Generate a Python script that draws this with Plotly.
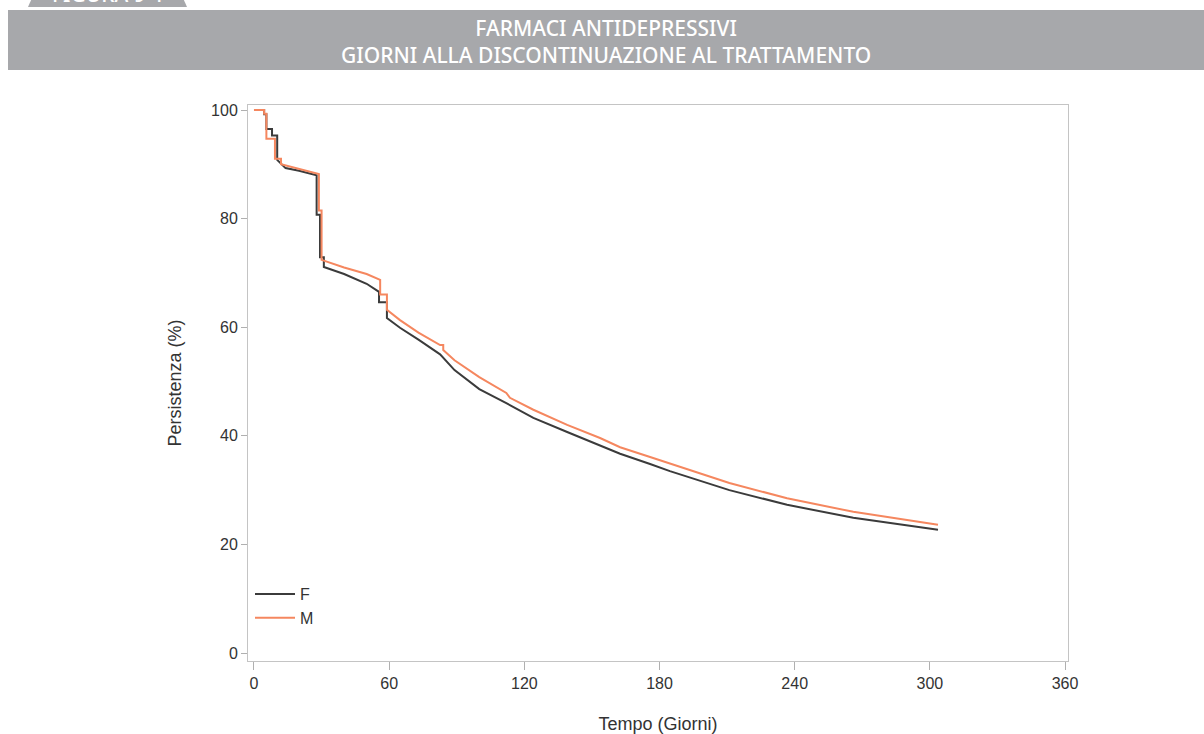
import plotly.graph_objects as go

# ---- data ----
days_F = [0, 4.5, 4.5, 5.5, 5.5, 8, 8, 10.3, 10.3, 14, 20, 27.8, 27.8, 29.3, 29.3, 31, 31,
          40, 50, 55.5, 55.5, 59, 59, 64.8, 73, 82.6, 89, 100, 112, 124, 139, 153.6,
          162.5, 175.8, 184.6, 211, 236.6, 266, 303.6]
pers_F = [100, 100, 99.2, 99.2, 96.5, 96.5, 95.3, 95.3, 90.8, 89.3, 88.8, 88.0, 80.7, 80.7,
          72.9, 72.9, 71.1, 69.8, 68.0, 66.5, 64.6, 64.6, 61.7, 59.9, 57.7, 55.0, 52.1, 48.6,
          46.0, 43.3, 40.7, 38.3, 36.7, 34.8, 33.5, 30.0, 27.3, 24.9, 22.7]

days_M = [0, 4.5, 4.5, 5.5, 5.5, 9.3, 9.3, 12, 12, 20, 28.8, 28.8, 30, 30, 40, 50, 56, 56,
          59, 59, 64.8, 73, 82.6, 84, 84, 89, 100, 112, 113.6, 124, 139, 153.6, 162.5,
          175.8, 184.6, 211, 236.6, 266, 303.6]
pers_M = [100, 100, 99.3, 99.3, 94.7, 94.7, 91.0, 91.0, 90.0, 89.2, 88.2, 81.5, 81.5, 72.4,
          71.0, 69.8, 68.7, 66.0, 66.0, 63.2, 61.3, 59.0, 56.7, 56.7, 55.8, 53.9, 50.8, 47.9,
          47.0, 44.8, 42.0, 39.6, 37.9, 36.1, 34.9, 31.3, 28.5, 26.0, 23.6]

x_ticks = [0, 60, 120, 180, 240, 300, 360]
y_ticks = [0, 20, 40, 60, 80, 100]

title_lines = ["FARMACI ANTIDEPRESSIVI", "GIORNI ALLA DISCONTINUAZIONE AL TRATTAMENTO"]
tab_label = "FIGURA 9-1"

# ---- layout geometry (pixels) ----
W, H = 1204, 734
L, R, T, B = 248, 1068, 105, 661   # plot area edges


def px(xp):
    return (xp - L) / (R - L)


def py(yp):
    return (B - yp) / (B - T)


FONT = "Liberation Sans, Arial, sans-serif"
HFONT = "Noto Sans, sans-serif"
GRAY = "#a7a8ab"

fig = go.Figure()
fig.add_trace(go.Scatter(x=days_F, y=pers_F, mode="lines", name="F",
                         line=dict(color="#3b3b3b", width=2)))
fig.add_trace(go.Scatter(x=days_M, y=pers_M, mode="lines", name="M",
                         line=dict(color="#f5875f", width=2)))

shapes = [
    # header banner
    dict(type="rect", xref="paper", yref="paper", x0=px(8), x1=px(1204 + 2),
         y0=py(70), y1=py(10), fillcolor=GRAY, line=dict(width=0), layer="below"),
    # tab
    dict(type="path", xref="paper", yref="paper",
         path=f"M {px(28)} {py(7)} L {px(32)} {py(-2)} L {px(183)} {py(-2)} L {px(187)} {py(7)} Z",
         fillcolor=GRAY, line=dict(width=0), layer="below"),
]

annotations = [
    dict(xref="paper", yref="paper", x=px(606), y=py(41),
         text=title_lines[0] + "<br>" + title_lines[1],
         showarrow=False, align="center",
         font=dict(family=HFONT, size=21, color="white", weight=500),
         xanchor="center", yanchor="middle"),
    dict(xref="paper", yref="paper", x=px(108), y=py(-6), text=tab_label,
         showarrow=False, font=dict(family=HFONT, size=21, color="white", weight=500),
         xanchor="center", yanchor="middle"),
]

fig.update_layout(
    width=W, height=H,
    margin=dict(l=L, r=W - R, t=T, b=H - B, pad=0, autoexpand=False),
    paper_bgcolor="white", plot_bgcolor="white",
    font=dict(family=FONT, size=16, color="#333333"),
    shapes=shapes, annotations=annotations,
    showlegend=True,
    legend=dict(x=px(250), y=py(577), xanchor="left", yanchor="top",
                bgcolor="rgba(0,0,0,0)", font=dict(family=FONT, size=16, color="#333333"),
                tracegroupgap=0, itemwidth=40),
    xaxis=dict(range=[-2.66, 361.3], tickvals=x_ticks, ticktext=[str(v) for v in x_ticks],
               showgrid=False, zeroline=False, showline=True, mirror=True,
               linecolor="#c4c4c4", linewidth=1, ticks="outside", ticklen=8,
               tickcolor="#b0b0b0", automargin=False,
               title=dict(text="Tempo (Giorni)", standoff=26,
                          font=dict(family=FONT, size=18, color="#333333"))),
    yaxis=dict(range=[-1.47, 100.92], tickvals=y_ticks, ticktext=[str(v) for v in y_ticks],
               showgrid=False, zeroline=False, showline=True, mirror=True,
               linecolor="#c4c4c4", linewidth=1, ticks="outside", ticklen=6,
               tickcolor="#b0b0b0", automargin=False,
               title=dict(text="Persistenza (%)", standoff=24,
                          font=dict(family=FONT, size=18, color="#333333"))),
)

fig.write_html("out.html")
